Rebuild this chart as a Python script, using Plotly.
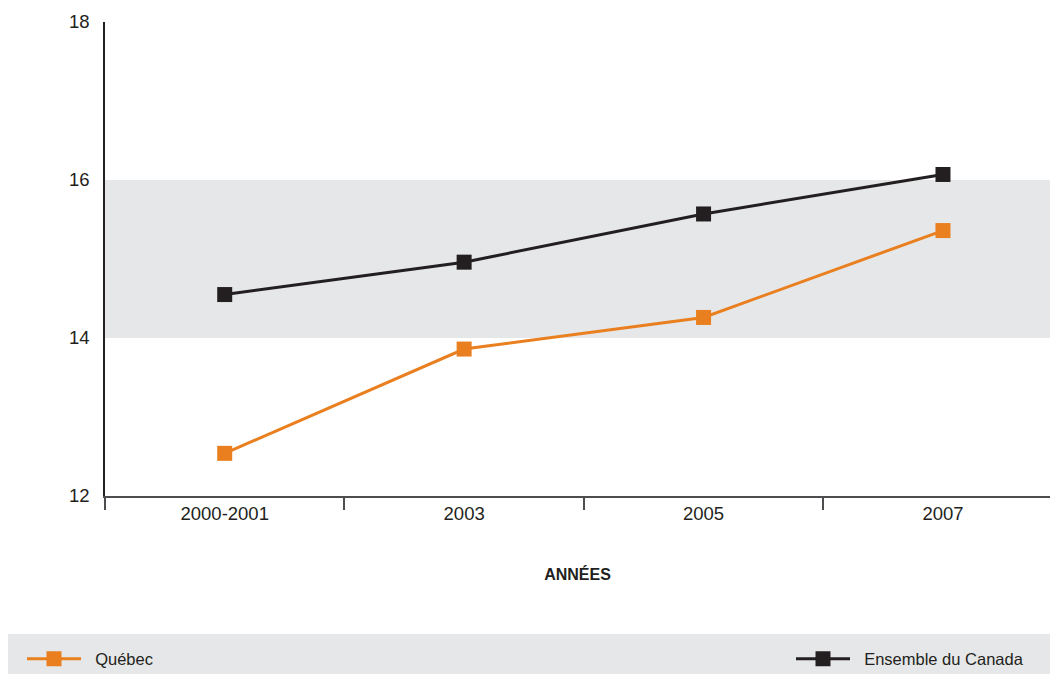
import plotly.graph_objects as go

categories = ["2000-2001", "2003", "2005", "2007"]
quebec = [12.54, 13.86, 14.26, 15.36]
canada = [14.55, 14.96, 15.57, 16.07]
y_ticks = [12, 14, 16, 18]
series_names = ["Québec", "Ensemble du Canada"]
x_title = "ANNÉES"

ORANGE = "#E97F1F"
BLACK = "#231F20"
BAND = "#E6E7E8"
TEXT = "#231F20"
FONT = "Liberation Sans, Arial, sans-serif"

W, H = 1050, 674
L, R, T, B = 105, 0, 22, 674 - 496
pw, ph = W - L - R, H - T - B

def px_x(p):
    return (p - L) / pw

def px_y(p):
    return (H - B - p) / ph

fig = go.Figure()
fig.add_trace(go.Scatter(
    x=categories, y=quebec, name="&nbsp;&nbsp;" + series_names[0], mode="lines+markers",
    line=dict(color=ORANGE, width=3),
    marker=dict(symbol="square", size=15, color=ORANGE),
    legend="legend",
))
fig.add_trace(go.Scatter(
    x=categories, y=canada, name="&nbsp;&nbsp;" + series_names[1], mode="lines+markers",
    line=dict(color=BLACK, width=3),
    marker=dict(symbol="square", size=15, color=BLACK),
    legend="legend2",
))

# grey band between 14 and 16
fig.add_shape(type="rect", xref="paper", yref="y", x0=0, x1=1, y0=14, y1=16,
              fillcolor=BAND, line=dict(width=0), layer="below")
# legend background strip
fig.add_shape(type="rect", xref="paper", yref="paper",
              x0=px_x(8), x1=1, y0=px_y(634), y1=px_y(690),
              fillcolor=BAND, line=dict(width=0), layer="below")

fig.update_layout(
    width=W, height=H,
    margin=dict(l=L, r=R, t=T, b=B, autoexpand=False),
    paper_bgcolor="white", plot_bgcolor="white",
    font=dict(family=FONT, color=TEXT, size=18),
    showlegend=True,
    legend=dict(x=px_x(22), y=px_y(659), xanchor="left", yanchor="middle",
                bgcolor="rgba(0,0,0,0)", font=dict(size=16.5, color=TEXT),
                itemwidth=54),
    legend2=dict(x=px_x(791), y=px_y(659), xanchor="left", yanchor="middle",
                 bgcolor="rgba(0,0,0,0)", font=dict(size=16.5, color=TEXT),
                 itemwidth=54),
    xaxis=dict(
        type="category", range=[-0.5, 3.447], automargin=False,
        showline=True, linecolor="#4D4D4F", linewidth=2,
        ticks="outside", tickson="boundaries", ticklen=12, tickwidth=1.5,
        tickcolor="#4D4D4F", showgrid=False, zeroline=False,
        tickfont=dict(size=18.5, color=TEXT),
        title=dict(text="<b>" + x_title + "</b>", font=dict(size=16, color=TEXT), standoff=46),
        fixedrange=True,
    ),
    yaxis=dict(
        range=[12, 18], tickvals=y_ticks, ticktext=[str(v) for v in y_ticks],
        automargin=False,
        showline=True, linecolor=BLACK, linewidth=1.5,
        ticks="", showgrid=False, zeroline=False,
        tickfont=dict(size=18.5, color=TEXT), ticklabelstandoff=10,
        fixedrange=True,
    ),
)

fig.write_html(
    "out.html",
    config={"displayModeBar": False},
    post_script="document.body.style.margin='0';document.body.style.overflow='hidden';",
)
